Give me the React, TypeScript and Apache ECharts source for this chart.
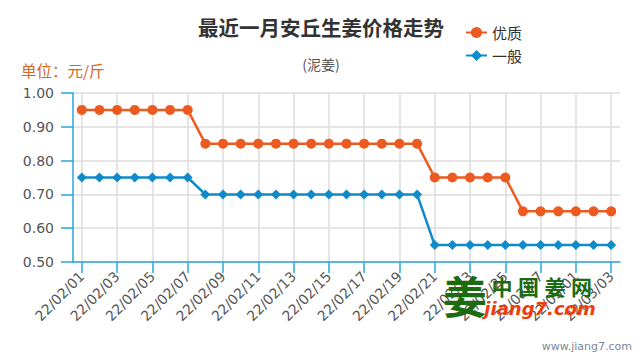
import React, { useEffect, useRef } from "react";
import * as echarts from "echarts";

const dates = [
  "22/02/01", "22/02/02", "22/02/03", "22/02/04", "22/02/05", "22/02/06", "22/02/07",
  "22/02/08", "22/02/09", "22/02/10", "22/02/11", "22/02/12", "22/02/13", "22/02/14",
  "22/02/15", "22/02/16", "22/02/17", "22/02/18", "22/02/19", "22/02/20", "22/02/21",
  "22/02/22", "22/02/23", "22/02/24", "22/02/25", "22/02/26", "22/02/27", "22/02/28",
  "22/03/01", "22/03/02", "22/03/03",
];
const premium = [
  0.95, 0.95, 0.95, 0.95, 0.95, 0.95, 0.95,
  0.85, 0.85, 0.85, 0.85, 0.85, 0.85, 0.85, 0.85, 0.85, 0.85, 0.85, 0.85, 0.85,
  0.75, 0.75, 0.75, 0.75, 0.75,
  0.65, 0.65, 0.65, 0.65, 0.65, 0.65,
];
const normal = [
  0.75, 0.75, 0.75, 0.75, 0.75, 0.75, 0.75,
  0.7, 0.7, 0.7, 0.7, 0.7, 0.7, 0.7, 0.7, 0.7, 0.7, 0.7, 0.7, 0.7,
  0.55, 0.55, 0.55, 0.55, 0.55, 0.55, 0.55, 0.55, 0.55, 0.55, 0.55,
];
const seriesNames = ["优质", "一般"];
const titleText = "最近一月安丘生姜价格走势";
const subtitleText = "(泥姜)";
const unitText = "单位：元/斤";
const brandChars = ["中", "国", "姜", "网"];

const CJK = '"Noto Sans CJK SC", "Open Sans", sans-serif';
const NUM = '"DejaVu Sans", "Noto Sans", sans-serif';
const AXIS_BLUE = "#2aa6de";
const GREEN = "#1d6b10";

export default function App() {
  const ref = useRef<HTMLDivElement>(null);
  useEffect(() => {
    const chart = echarts.init(ref.current!, null, { renderer: "svg" });
    const brand = brandChars.map((c, i) => ({
      type: "text",
      x: 502 + i * 26.5,
      y: 286,
      z: 100,
      style: { text: c, x: 0, y: 0, align: "center", verticalAlign: "middle", fontFamily: CJK, fontSize: 21, fontWeight: "bold", fill: GREEN },
    }));
    chart.setOption({
      animation: false,
      backgroundColor: "#ffffff",
      legend: {
        orient: "vertical",
        left: 460,
        top: 20,
        itemGap: 8,
        itemWidth: 21,
        itemHeight: 14,
        data: seriesNames,
        textStyle: { fontFamily: CJK, fontSize: 15, color: "#333333" },
      },
      grid: { left: 73, right: 20, top: 93, bottom: 98 },
      xAxis: {
        type: "category",
        data: dates,
        boundaryGap: true,
        axisLine: { lineStyle: { color: AXIS_BLUE, width: 1.5 } },
        axisTick: { show: true, alignWithLabel: true, interval: 1, length: 11, lineStyle: { color: AXIS_BLUE, width: 1.5 } },
        axisLabel: { interval: 1, rotate: 45, fontFamily: NUM, fontSize: 14, color: "#555555", margin: 12 },
        splitLine: { show: true, interval: 1, alignWithLabel: true, lineStyle: { color: "#dddddd", width: 1.5 } },
      },
      yAxis: {
        type: "value",
        min: 0.5,
        max: 1.0,
        interval: 0.1,
        axisLine: { show: true, lineStyle: { color: AXIS_BLUE, width: 1.5 } },
        axisTick: { show: true, length: 12, lineStyle: { color: AXIS_BLUE, width: 1.5 } },
        axisLabel: { formatter: (v: number) => v.toFixed(2), fontFamily: NUM, fontSize: 14, color: "#555555", margin: 19 },
        splitLine: { show: true, lineStyle: { color: "#dddddd", width: 1.5 } },
      },
      series: [
        {
          name: seriesNames[0],
          type: "line",
          data: premium,
          symbol: "circle",
          symbolSize: 10,
          itemStyle: { color: "#ec5a1f" },
          lineStyle: { color: "#ec5a1f", width: 2.5 },
        },
        {
          name: seriesNames[1],
          type: "line",
          data: normal,
          symbol: "diamond",
          symbolSize: 10,
          itemStyle: { color: "#0f8bc9" },
          lineStyle: { color: "#0f8bc9", width: 2.5 },
        },
      ],
      graphic: [
        {
          type: "text",
          x: 321,
          y: 27,
          style: { text: titleText, x: 0, y: 0, align: "center", verticalAlign: "middle", fontFamily: CJK, fontSize: 20.5, fontWeight: "bold", fill: "#333333" },
        },
        {
          type: "text",
          x: 321,
          y: 64,
          style: { text: subtitleText, x: 0, y: 0, align: "center", verticalAlign: "middle", fontFamily: CJK, fontSize: 14, fill: "#555555" },
        },
        {
          type: "text",
          x: 21,
          y: 70,
          style: { text: unitText, x: 0, y: 0, verticalAlign: "middle", fontFamily: CJK, fontSize: 15.5, fill: "#d2691e" },
        },
        {
          type: "text",
          x: 465,
          y: 295,
          z: 100,
          style: { text: "姜", x: 0, y: 0, align: "center", verticalAlign: "middle", fontFamily: CJK, fontSize: 44, fontWeight: "bold", fill: GREEN },
        },
        ...brand,
        {
          type: "text",
          x: 540,
          y: 308,
          z: 100,
          style: { text: "jiang7.com", x: 0, y: 0, align: "center", verticalAlign: "middle", fontFamily: '"DejaVu Sans", sans-serif', fontSize: 18, fontWeight: "bold", fontStyle: "italic", fill: "#f03c0c" },
        },
        {
          type: "text",
          x: 632,
          y: 346,
          z: 100,
          style: { text: "www.jiang7.com", x: 0, y: 0, align: "right", verticalAlign: "middle", fontFamily: NUM, fontSize: 11, fill: "#7a869a" },
        },
      ],
    });
    return () => chart.dispose();
  }, []);
  return <div ref={ref} style={{ width: 640, height: 360, position: "absolute", left: 0, top: 0 }} />;
}
